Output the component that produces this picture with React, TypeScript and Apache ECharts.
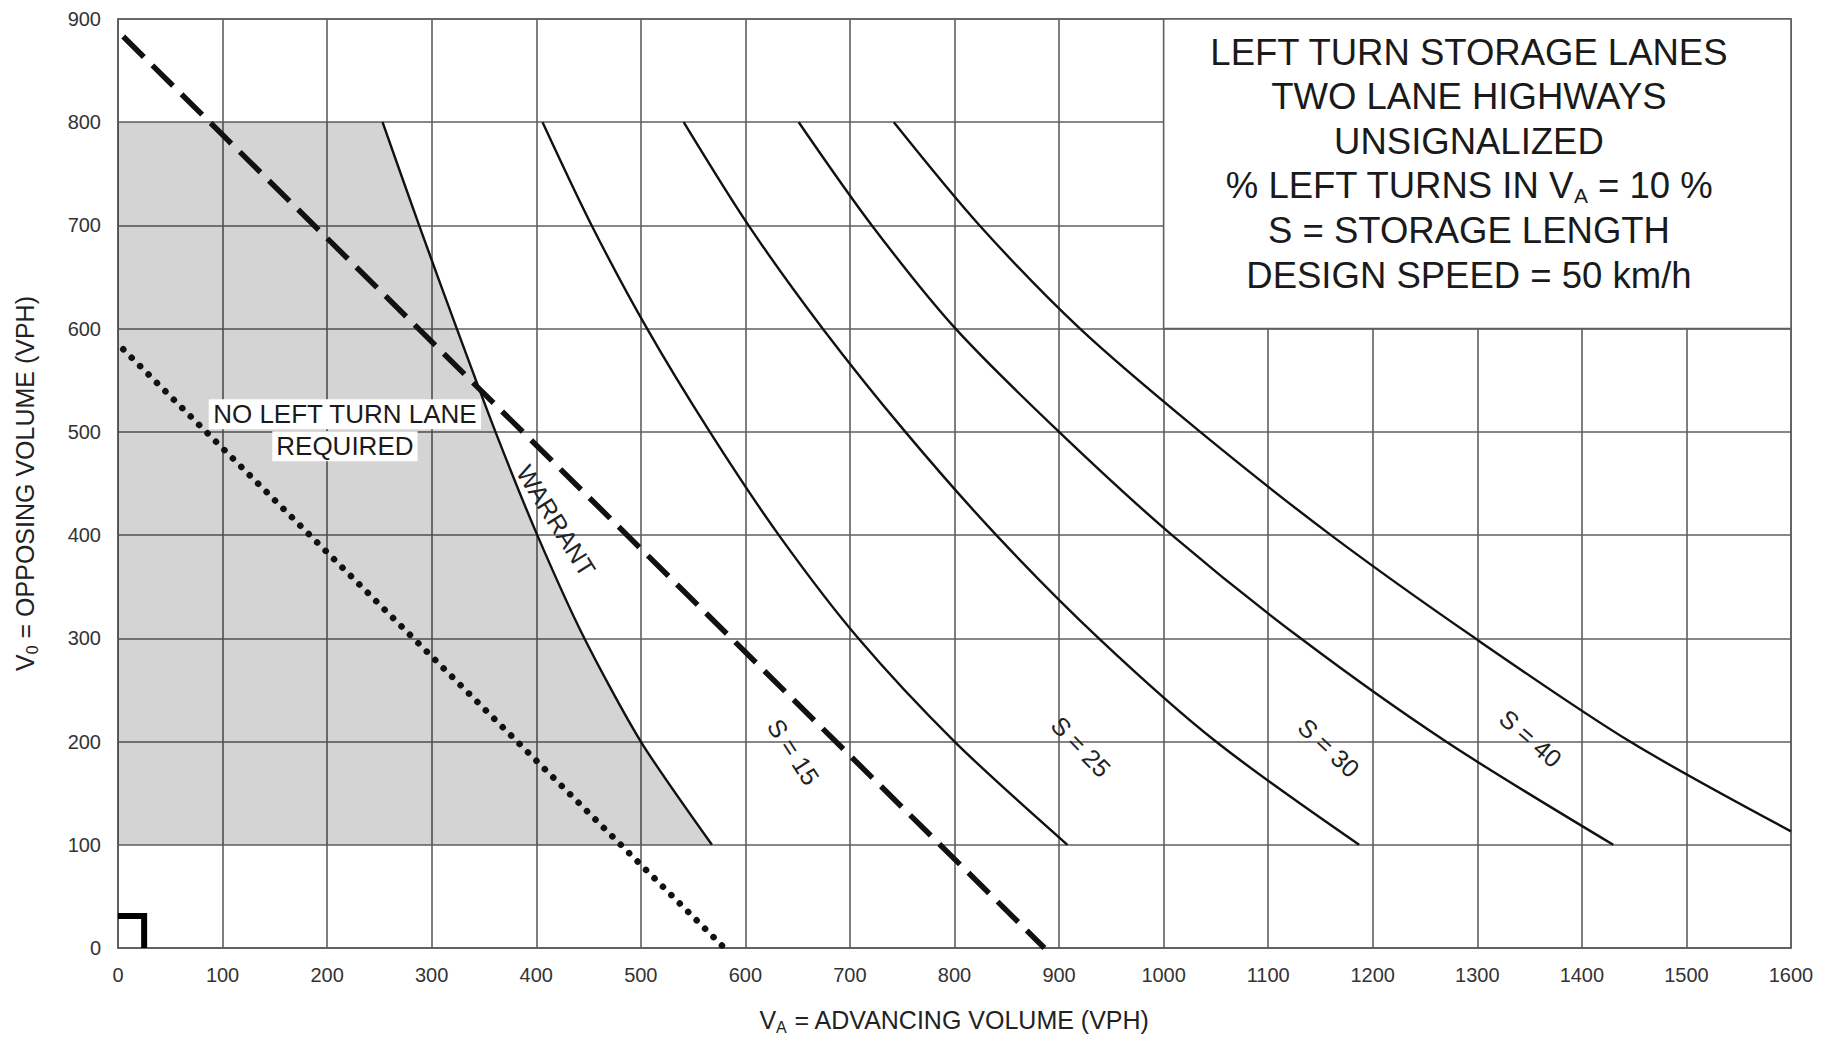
import React, { useEffect, useRef } from "react";
import * as echarts from "echarts";

const FONT = "'Liberation Sans', Arial, Helvetica, sans-serif";

// axis ranges / ticks
const xRange = [0, 1600];
const yRange = [0, 900];
const tickStep = 100;

// curves (x = advancing volume, y = opposing volume)
const warrant = [[253, 800], [288, 700], [324, 600], [361, 500], [401, 400], [446, 300], [500, 200], [568, 100]];
const s15 = [[406, 800], [453, 700], [506, 600], [566, 500], [632, 400], [708, 300], [800, 200], [908, 100]];
const s25 = [[541, 800], [603, 700], [674, 600], [753, 500], [840, 400], [938, 300], [1050, 200], [1187, 100]];
const s30 = [[651, 800], [721, 700], [801, 600], [900, 500], [1008, 400], [1131, 300], [1270, 200], [1430, 100]];
const s40 = [[742, 800], [824, 700], [920, 600], [1035, 500], [1160, 400], [1298, 300], [1446, 200], [1600, 113]];
const dashedLine = [[5, 883], [886, 0]];
const dottedLine = [[5, 580], [578, 2]];
const cornerMark = [[0, 31], [25, 31], [25, 0]];
const shadedEdge = [[0, 100], [0, 800]];
const textBox = [[1000, 600], [1600, 900]];

const curveLabels = [
  { text: "S = 15", x: 646, y: 190, angle: -57 },
  { text: "S = 25", x: 921, y: 195, angle: -46 },
  { text: "S = 30", x: 1158, y: 194, angle: -43 },
  { text: "S = 40", x: 1351, y: 203, angle: -41 },
  { text: "WARRANT", x: 419, y: 414, angle: -58 },
];
const regionLabel = { lines: ["NO LEFT TURN LANE", "REQUIRED"], x: 217, y: [517, 486] };
const boxLines = [
  "{t|LEFT TURN STORAGE LANES}",
  "{t|TWO LANE HIGHWAYS}",
  "{t|UNSIGNALIZED}",
  "{t|% LEFT TURNS IN V}{s|A}{t| = 10 %}",
  "{t|S = STORAGE LENGTH}",
  "{t|DESIGN SPEED = 50 km/h}",
];
const boxCenter = [1292, 760];

const GRID_C = "#5f5f5f";

export default function App() {
  const ref = useRef<HTMLDivElement>(null);
  useEffect(() => {
    if (!ref.current) return;
    const chart = echarts.init(ref.current, undefined, { renderer: "svg" });
    const polygon = [...shadedEdge, ...warrant];
    const curveStyle = { color: "#111", width: 2.4 };
    const axisLabel = { fontSize: 20, color: "#333", fontFamily: FONT, margin: 17, formatter: (v: number) => String(v) };
    const nameRich = {
      a: { fontSize: 25, fontFamily: FONT, color: "#222", lineHeight: 30 },
      s: { fontSize: 16, fontFamily: FONT, color: "#222", lineHeight: 16, padding: [14, 0, 0, 0] },
    };
    const option: any = {
      animation: false,
      backgroundColor: "#fff",
      grid: { left: 118, right: 48, top: 19, bottom: 89, show: true, borderColor: GRID_C, borderWidth: 1.6, backgroundColor: "transparent" },
      xAxis: {
        type: "value", min: xRange[0], max: xRange[1], interval: tickStep,
        axisLine: { show: true, lineStyle: { color: GRID_C, width: 1.6 } },
        axisTick: { show: false },
        splitLine: { show: true, lineStyle: { color: GRID_C, width: 1.6 } },
        axisLabel,
        name: "{a|V}{s|A}{a| = ADVANCING VOLUME (VPH)}",
        nameLocation: "middle", nameGap: 57,
        nameTextStyle: { rich: nameRich },
      },
      yAxis: {
        type: "value", min: yRange[0], max: yRange[1], interval: tickStep,
        axisLine: { show: true, lineStyle: { color: GRID_C, width: 1.6 } },
        axisTick: { show: false },
        splitLine: { show: true, lineStyle: { color: GRID_C, width: 1.6 } },
        axisLabel,
        name: "{a|V}{s|0}{a| = OPPOSING VOLUME (VPH)}",
        nameLocation: "middle", nameGap: 78, nameRotate: 90,
        nameTextStyle: { rich: nameRich },
      },
      series: [
        {
          type: "custom",
          data: polygon,
          encode: { x: 0, y: 1 },
          silent: true,
          z: 1,
          renderItem: (params: any, api: any) => {
            if (params.dataIndex !== 0) return null;
            return {
              type: "polygon",
              shape: { points: polygon.map((p) => api.coord(p)) },
              style: { fill: "rgba(0,0,0,0.17)" },
              silent: true,
            };
          },
        },
        {
          type: "line",
          data: [textBox[0]],
          symbol: "none",
          lineStyle: { width: 0 },
          silent: true,
          z: 2,
          markArea: {
            silent: true,
            itemStyle: { color: "#fff", borderColor: GRID_C, borderWidth: 1.6 },
            label: { show: false },
            data: [[{ coord: textBox[0] }, { coord: textBox[1] }]],
          },
        },
        { type: "line", data: warrant, symbol: "none", smooth: 0.25, lineStyle: curveStyle, z: 4, silent: true },
        { type: "line", data: s15, symbol: "none", smooth: 0.3, lineStyle: curveStyle, z: 4, silent: true },
        { type: "line", data: s25, symbol: "none", smooth: 0.3, lineStyle: curveStyle, z: 4, silent: true },
        { type: "line", data: s30, symbol: "none", smooth: 0.3, lineStyle: curveStyle, z: 4, silent: true },
        { type: "line", data: s40, symbol: "none", smooth: 0.3, lineStyle: curveStyle, z: 4, silent: true },
        { type: "line", data: dashedLine, symbol: "none", lineStyle: { color: "#111", width: 5.5, type: [29, 12] }, z: 5, silent: true },
        { type: "line", data: dottedLine, symbol: "none", lineStyle: { color: "#111", width: 6.5, type: [0.1, 11.8], cap: "round" }, z: 5, silent: true },
        { type: "line", data: cornerMark, symbol: "none", lineStyle: { color: "#000", width: 6, cap: "butt", join: "miter" }, z: 5, silent: true },
      ],
    };
    chart.setOption(option);

    const px = (x: number, y: number) => chart.convertToPixel({ xAxisIndex: 0, yAxisIndex: 0 }, [x, y]) as number[];
    const graphics: any[] = [];
    curveLabels.forEach((l) => {
      const p = px(l.x, l.y);
      graphics.push({
        type: "text", x: p[0], y: p[1], rotation: (l.angle * Math.PI) / 180, z: 10,
        style: { text: l.text, fontSize: 25, fontFamily: FONT, fill: "#222", align: "center", verticalAlign: "middle" },
      });
    });
    regionLabel.lines.forEach((t, i) => {
      const p = px(regionLabel.x, regionLabel.y[i]);
      graphics.push({
        type: "text", x: p[0], y: p[1], z: 10,
        style: { text: t, fontSize: 26, fontFamily: FONT, fill: "#1a1a1a", align: "center", verticalAlign: "middle", backgroundColor: "#fff", padding: [2, 4, 2, 4] },
      });
    });
    const bc = px(boxCenter[0], boxCenter[1]);
    graphics.push({
      type: "text", x: bc[0], y: bc[1], z: 10,
      style: {
        text: boxLines.join("\n"), align: "center", verticalAlign: "middle",
        rich: {
          t: { fontSize: 36.5, fontFamily: FONT, fill: "#1a1a1a", lineHeight: 44.6 },
          s: { fontSize: 21, fontFamily: FONT, fill: "#1a1a1a", lineHeight: 24.6, padding: [20, 0, 0, 0] },
        },
      },
    });
    chart.setOption({ graphic: graphics });

    return () => chart.dispose();
  }, []);
  return <div ref={ref} style={{ position: "fixed", left: 0, top: 0, width: 1839, height: 1040, background: "#fff" }} />;
}
